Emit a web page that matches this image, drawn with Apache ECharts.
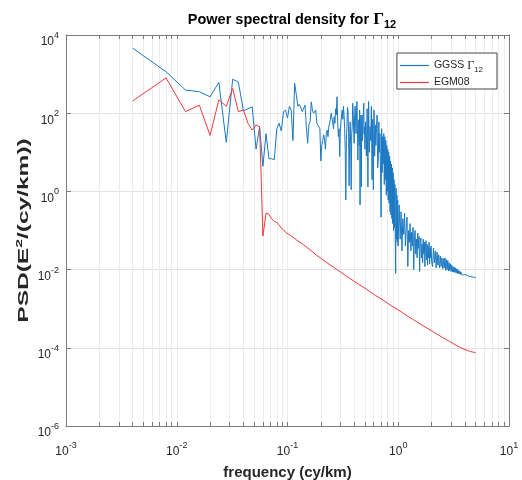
<!DOCTYPE html>
<html><head><meta charset="utf-8">
<script src="https://cdn.jsdelivr.net/npm/echarts@6/dist/echarts.min.js"></script>
<style>html,body{margin:0;padding:0;background:#fff}#c{width:522px;height:480px}</style>
</head><body><div id="c"></div>
<script>
// ---- data ----
const ggssFreq = [
0.004,0.008,0.012,0.016,0.020,0.024,0.028,0.032,0.036,0.040,0.044,0.048,0.052,0.056,0.060,0.064,0.068,0.072,0.076,0.080,
0.084,0.088,0.092,0.096,0.100,0.104,0.108,0.112,0.116,0.120,0.124,0.128,0.132,0.136,0.140,0.144,0.148,0.152,0.156,0.160,
0.164,0.168,0.172,0.176,0.180,0.184,0.188,0.192,0.196,0.200,
0.204,0.208,0.212,0.216,0.220,0.224,0.228,0.232,0.236,0.240,0.244,0.248,0.252,0.256,0.260,0.264,0.268,0.272,0.276,0.280,
0.284,0.288,0.292,0.296,0.300,0.304,0.308,0.312,0.316,0.320,0.324,0.328,0.332,0.336,0.340,0.344,0.348,0.352,0.356,0.360,
0.364,0.368,0.372,0.376,0.380,0.384,0.388,0.392,0.396,0.400,0.404,0.408,0.412,0.416,0.420,0.424,0.428,0.432,0.436,0.440,
0.444,0.448,0.452,0.456,0.460,0.464,0.468,0.472,0.476,0.480,0.484,0.488,0.492,0.496,0.500,
0.508,0.516,0.524,0.532,0.540,0.548,0.556,0.564,0.572,0.580,0.588,0.596,0.604,0.612,0.620,0.628,0.636,0.644,0.652,0.660,
0.668,0.676,0.684,0.692,0.700,0.708,0.716,0.724,0.732,0.740,0.748,0.756,0.764,0.772,0.780,0.788,0.796,0.804,0.812,0.820,
0.828,0.836,0.844,0.852,0.860,0.868,0.876,0.884,0.892,0.900,0.908,0.916,0.924,0.932,0.940,0.948,0.956,0.964,0.972,0.980,
0.988,0.996,
1.02,1.04,1.06,1.08,1.10,1.12,1.14,1.16,1.18,1.20,1.22,1.24,1.26,1.28,1.30,1.32,1.34,1.36,1.38,1.40,
1.42,1.44,1.46,1.48,1.50,1.52,1.54,1.56,1.58,1.60,1.62,1.64,1.66,1.68,1.70,1.72,1.74,1.76,1.78,1.80,
1.82,1.84,1.86,1.88,1.90,1.92,1.94,1.96,1.98,2.00,
2.04,2.08,2.12,2.16,2.20,2.24,2.28,2.32,2.36,2.40,2.44,2.48,2.52,2.56,2.60,
2.64,2.68,2.72,2.76,2.80,2.84,2.88,2.92,2.96,3.00,3.04,3.08,3.12,3.16,3.20,3.24,3.28,3.32,3.36,3.40,
3.44,3.48,3.52,3.56,3.60,3.64,3.68,3.72,3.76,3.80,3.84,3.88,3.92,3.96,4.00,4.04,4.08,4.12,4.16,4.20,
4.24,4.28,4.32,4.36,4.40,4.44,4.48,4.52,4.56,4.60,4.64,4.68,4.72,4.76,4.80,4.84,4.88,4.92,4.96,5.00
];
const ggssPsd = [
4600,1150,390,355,263,615,18,740,620,115,130,146,12,45,4.4,30,7,6.8,6.5,40,
55,35,110,120,75,150,120,20,580,300,150,170,180,110,110,160,45,17,50,60,
195,120,100,110,120,55,60,45,40,6,
15,20,28,22,12,30,37,25,45,50,70,100,75,60,40,81,55,130,90,263,
60,25,40,7.8,35,60,90,120,70,150,90,40,12,0.6,20,45,140,110,30,1.4,
25,60,15,1.1,30,45,180,100,35,17,80,150,60,30,110,200,40,6.3,50,68,
15,120,0.45,25,90,1.3,60,90,20,40,100,180,30,45,12,
60,8,130,1.3,200,10,45,20,150,2,70,1.1,120,8,50,15,41,90,4,6.3,
60,10,30,2.9,0.22,40,3,25,5,30,1.5,25,2,20,0.8,15,1,12,0.6,10,
0.5,8,0.3,6,0.25,5,0.2,4,0.15,3,0.1,2,0.12,1.5,0.06,0.008,1.2,0.06,0.8,0.05,
0.6,0.04,
0.45,0.06,0.3,0.03,0.2,0.08,0.28,0.04,0.12,0.22,0.012,0.1,0.05,0.15,0.03,0.09,0.04,0.12,0.01,0.07,
0.1,0.025,0.06,0.02,0.085,0.035,0.07,0.009,0.05,0.065,0.02,0.045,0.015,0.06,0.025,0.05,0.012,0.04,0.055,0.018,
0.045,0.013,0.04,0.02,0.05,0.014,0.035,0.02,0.04,0.016,
0.012,0.035,0.015,0.03,0.011,0.028,0.013,0.024,0.011,0.022,0.012,0.02,0.0105,0.019,0.011,
0.02,0.0095,0.018,0.01,0.017,0.0092,0.015,0.0095,0.014,0.009,0.013,0.0088,0.012,0.0086,0.0115,0.0085,0.011,0.0083,0.0105,0.008,
0.01,0.0079,0.0095,0.0078,0.009,0.0076,0.0087,0.0075,0.0084,0.0074,0.0081,0.0073,0.0079,0.0072,0.0077,0.0071,0.0075,0.007,0.0073,0.0069,
0.0072,0.0068,0.007,0.0067,0.0069,0.0066,0.0068,0.0066,0.0067,0.0065,0.0066,0.0065,0.0065,0.0064,0.0065,0.0064,0.0064,0.0063,0.0064,0.0063
];
const egmFreq = [
0.004,0.008,0.012,0.016,0.020,0.024,0.028,0.032,0.036,0.040,0.044,0.048,0.052,0.056,0.060,0.064,0.068,0.072,0.076,0.080,
0.084,0.088,0.092,0.096,0.100,0.110,0.120,0.140,0.160,0.182,0.220,0.260,0.300,0.364,0.440,0.520,0.620,0.728,0.860,1.000,
1.200,1.460,1.750,2.100,2.500,2.920,3.400,3.800,4.140,4.500,4.920,5.000
];
const egmPsd = [
205,800,110,160,27,220,150,430,110,120,55,37,50,45,0.072,0.28,0.26,0.2,0.17,0.16,
0.14,0.115,0.105,0.09,0.085,0.07,0.058,0.043,0.032,0.0236,0.016,0.0115,0.0087,0.006,0.0042,0.0031,0.0022,0.00167,0.0012,0.00093,
0.00066,0.00047,0.00034,0.00025,0.000185,0.000144,0.000112,0.000096,0.000087,0.00008,0.000076,0.000075
];
const seriesNames = ['GGSS Γ12', 'EGM08'];
const seriesColors = ['#1a78c2', '#ef3b3b'];
const xMajorTicks = [0.001, 0.01, 0.1, 1, 10];
const xAllTicks = [0.001,0.002,0.003,0.004,0.005,0.006,0.007,0.008,0.009,
  0.01,0.02,0.03,0.04,0.05,0.06,0.07,0.08,0.09,
  0.1,0.2,0.3,0.4,0.5,0.6,0.7,0.8,0.9,
  1,2,3,4,5,6,7,8,9,10];
const yMajorTicks = [1e-6, 1e-4, 1e-2, 1, 1e2, 1e4];

// ---- chart ----
const font = '"Liberation Sans", Arial, sans-serif';
const serif = '"Liberation Serif", "Times New Roman", serif';
const txt = '#262626';
const axisCol = '#7a7a7a';
function expLabel(v) {
  const e = Math.round(Math.log10(v));
  return '{b|10}{s|' + (e < 0 ? '-' : '') + Math.abs(e) + '}';
}
const supRich = {
  b: {fontSize: 12, fontFamily: font, color: txt, verticalAlign: 'bottom', lineHeight: 12},
  s: {fontSize: 9, fontFamily: font, color: txt, verticalAlign: 'bottom', lineHeight: 9, padding: [0, 0, 8, 0]}
};
const chart = echarts.init(document.getElementById('c'), null, {renderer: 'canvas'});
const xBase = {
  type: 'log', logBase: 10, min: 0.001, max: 10,
  axisLine: {show: true, onZero: false, lineStyle: {color: axisCol}},
  axisTick: {show: true, inside: true, length: 4, customValues: xAllTicks, lineStyle: {color: axisCol}}
};
const yBase = {
  type: 'log', logBase: 10, min: 1e-6, max: 1e4,
  axisLine: {show: true, onZero: false, lineStyle: {color: axisCol}},
  axisTick: {show: true, inside: true, length: 5, customValues: yMajorTicks, lineStyle: {color: axisCol}}
};
chart.setOption({
  animation: false,
  backgroundColor: '#fff',
  title: {
    text: '{a|Power spectral density for }{g|Γ}{s|12}',
    left: 287, top: 5, textAlign: 'center',
    textStyle: {rich: {
      a: {fontFamily: font, fontWeight: 'bold', fontSize: 14.5, color: '#000', verticalAlign: 'middle', lineHeight: 20},
      g: {fontFamily: serif, fontSize: 17, color: '#000', verticalAlign: 'middle', lineHeight: 20},
      s: {fontFamily: font, fontWeight: 'bold', fontSize: 11, color: '#000', verticalAlign: 'bottom', lineHeight: 11, padding: [10, 0, 0, 0]}
    }}
  },
  legend: {
    orient: 'vertical', right: 25, top: 53, align: 'left',
    icon: 'rect', itemWidth: 29, itemHeight: 1.2, itemGap: 3,
    padding: [4, 14, 1, 3],
    borderColor: '#444', borderWidth: 1, backgroundColor: '#fff',
    data: seriesNames.map((n, i) => ({name: n, itemStyle: {color: seriesColors[i], borderWidth: 0}, lineStyle: {color: seriesColors[i]}})),
    formatter: function (name) {
      if (name === seriesNames[0]) return '{n|GGSS }{g|Γ}{u|12}';
      return '{n|' + name + '}';
    },
    textStyle: {rich: {
      n: {fontFamily: font, fontSize: 10.5, color: txt, verticalAlign: 'middle', lineHeight: 17},
      g: {fontFamily: serif, fontSize: 12, color: txt, verticalAlign: 'middle', lineHeight: 17},
      u: {fontFamily: font, fontSize: 8, color: txt, verticalAlign: 'bottom', lineHeight: 8, padding: [9, 0, 0, 0]}
    }}
  },
  grid: {left: 66, right: 13, top: 35, bottom: 54, show: false, containLabel: false, outerBoundsMode: 'none'},
  graphic: [{
    type: 'text', x: 24, y: 230.5, rotation: Math.PI / 2, scaleX: 1.75, scaleY: 1,
    style: {
      text: '{t|PSD(E}{p|2}{t|/(cy/km))}', align: 'center', verticalAlign: 'middle',
      rich: {
        t: {fontFamily: font, fontWeight: 'bold', fontSize: 14, fill: txt, verticalAlign: 'bottom', lineHeight: 14},
        p: {fontFamily: font, fontWeight: 'bold', fontSize: 9, fill: txt, verticalAlign: 'bottom', lineHeight: 9, padding: [0, 0, 7, 0]}
      }
    }
  }],
  xAxis: [
    Object.assign({}, xBase, {
      position: 'bottom',
      axisLabel: {show: true, customValues: xMajorTicks, formatter: expLabel, rich: supRich, margin: 20},
      splitLine: {show: true, lineStyle: {color: '#ececec', width: 1}},
      name: 'frequency (cy/km)', nameLocation: 'middle', nameGap: 39,
      nameTextStyle: {fontFamily: font, fontWeight: 'bold', fontSize: 15, color: txt}
    }),
    Object.assign({}, xBase, {
      position: 'top', axisLabel: {show: false}, splitLine: {show: false}
    })
  ],
  yAxis: [
    Object.assign({}, yBase, {
      position: 'left',
      axisLabel: {show: true, customValues: yMajorTicks, formatter: expLabel, rich: supRich, margin: 7, padding: [14, 0, 0, 0]},
      splitLine: {show: true, lineStyle: {color: '#e4e4e4', width: 1}}
    }),
    Object.assign({}, yBase, {
      position: 'right', axisLabel: {show: false}, splitLine: {show: false}
    })
  ],
  series: [
    {
      name: seriesNames[0], type: 'line', xAxisIndex: 0, yAxisIndex: 0,
      data: ggssFreq.map((f, i) => [f, ggssPsd[i]]),
      symbol: 'none', showSymbol: false,
      lineStyle: {width: 1, color: seriesColors[0]}, itemStyle: {color: seriesColors[0]}
    },
    {
      name: seriesNames[1], type: 'line', xAxisIndex: 0, yAxisIndex: 0,
      data: egmFreq.map((f, i) => [f, egmPsd[i]]),
      symbol: 'none', showSymbol: false,
      lineStyle: {width: 1, color: seriesColors[1]}, itemStyle: {color: seriesColors[1]}
    }
  ]
});
</script>
</body></html>
